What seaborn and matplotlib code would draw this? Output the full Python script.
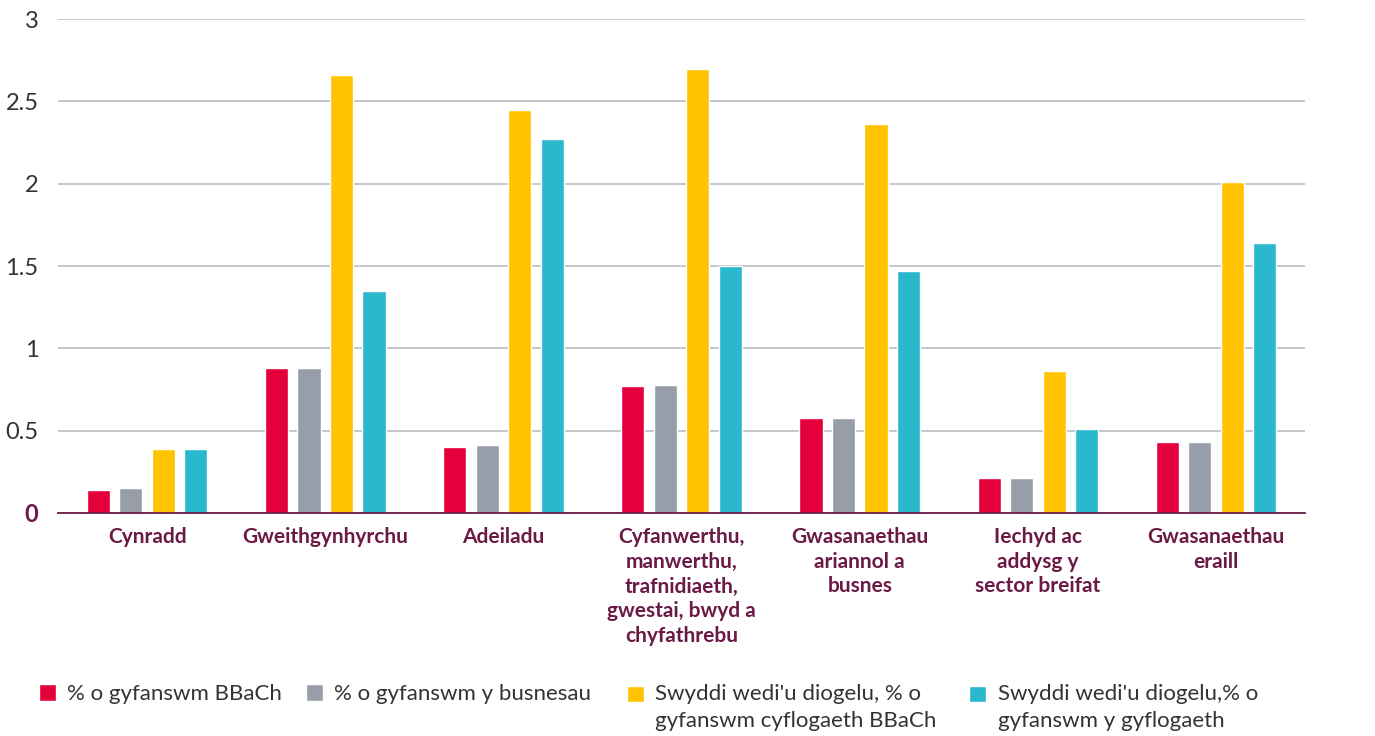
import matplotlib.pyplot as plt
import seaborn as sns
import pandas as pd
from matplotlib.patches import Rectangle
from matplotlib.legend_handler import HandlerPatch

categories = [
    "Cynradd",
    "Gweithgynhyrchu",
    "Adeiladu",
    "Cyfanwerthu,\nmanwerthu,\ntrafnidiaeth,\ngwestai, bwyd a\nchyfathrebu",
    "Gwasanaethau\nariannol a\nbusnes",
    "Iechyd ac\naddysg y\nsector breifat",
    "Gwasanaethau\neraill",
]
series_names = [
    "% o gyfanswm BBaCh",
    "% o gyfanswm y busnesau",
    "Swyddi wedi'u diogelu, % o\ngyfanswm cyflogaeth BBaCh",
    "Swyddi wedi'u diogelu,% o\ngyfanswm y gyflogaeth",
]
pct_sme = [0.14, 0.88, 0.40, 0.77, 0.58, 0.21, 0.43]
pct_all = [0.15, 0.88, 0.41, 0.78, 0.58, 0.21, 0.43]
jobs_sme = [0.39, 2.66, 2.45, 2.70, 2.36, 0.86, 2.01]
jobs_all = [0.39, 1.35, 2.27, 1.50, 1.47, 0.51, 1.64]

colors = ["#e4003b", "#979ea9", "#ffc300", "#2ab8cd"]
maroon = "#6a1a45"

rows = []
for name, vals in zip(series_names, [pct_sme, pct_all, jobs_sme, jobs_all]):
    for cat, v in zip(categories, vals):
        rows.append({"cat": cat, "series": name, "value": v})
df = pd.DataFrame(rows)

sns.set_theme(style="white")
plt.rcParams["font.family"] = ["Lato", "DejaVu Sans"]

fig = plt.figure(figsize=(13.75, 7.36), dpi=100)
ax = fig.add_axes([0.0422, 0.303, 0.907, 0.671])

sns.barplot(data=df, x="cat", y="value", hue="series", order=categories,
            hue_order=series_names, palette=colors, width=0.73, gap=0.29,
            saturation=1, ax=ax, legend=True)

ax.set_ylim(0, 3)
ax.set_xlim(-0.5, len(categories) - 0.5)
ax.set_yticks([0, 0.5, 1, 1.5, 2, 2.5, 3])
ax.set_yticklabels(["0", "0.5", "1", "1.5", "2", "2.5", "3"])
ax.yaxis.grid(True, color="#b9bdc6", linewidth=1.2)
ax.set_axisbelow(True)
for s in ["top", "right", "left"]:
    ax.spines[s].set_visible(False)
ax.spines["bottom"].set_color(maroon)
ax.spines["bottom"].set_linewidth(1.3)
ax.set_xlabel("")
ax.set_ylabel("")
ax.tick_params(axis="y", length=0, pad=14, labelsize=17, labelcolor="#333333")
ax.tick_params(axis="x", length=0, pad=10)
for lbl in ax.get_yticklabels():
    if lbl.get_text() == "0":
        lbl.set_fontweight("bold")
        lbl.set_color(maroon)
for lbl in ax.get_xticklabels():
    lbl.set_fontsize(15)
    lbl.set_fontweight("bold")
    lbl.set_color(maroon)
    lbl.set_linespacing(1.3)

handles, labels = ax.get_legend_handles_labels()
ax.get_legend().remove()

LEG_FS = 16
LEG_LS = 1.41


def make_handler(extra_lines):
    # lift the swatch so it sits beside the first line of a multi-line label
    def patch_func(legend, orig_handle, xdescent, ydescent, width, height, fontsize):
        shift = fontsize * 0.61 * extra_lines
        return Rectangle((-xdescent, -ydescent + shift), width, height)
    return HandlerPatch(patch_func=patch_func)


xs = [0.0285, 0.2225, 0.456, 0.705]
for h, l, x in zip(handles, labels, xs):
    leg = fig.legend([h], [l], loc="upper left", bbox_to_anchor=(x, 0.0704),
                     frameon=False, fontsize=LEG_FS, handlelength=0.77,
                     handleheight=0.77, handletextpad=0.5, labelcolor="#333333",
                     borderaxespad=0, borderpad=0,
                     handler_map={h: make_handler(l.count("\n"))})
    for t in leg.get_texts():
        t.set_linespacing(LEG_LS)

fig.savefig("out.png", dpi=100)
